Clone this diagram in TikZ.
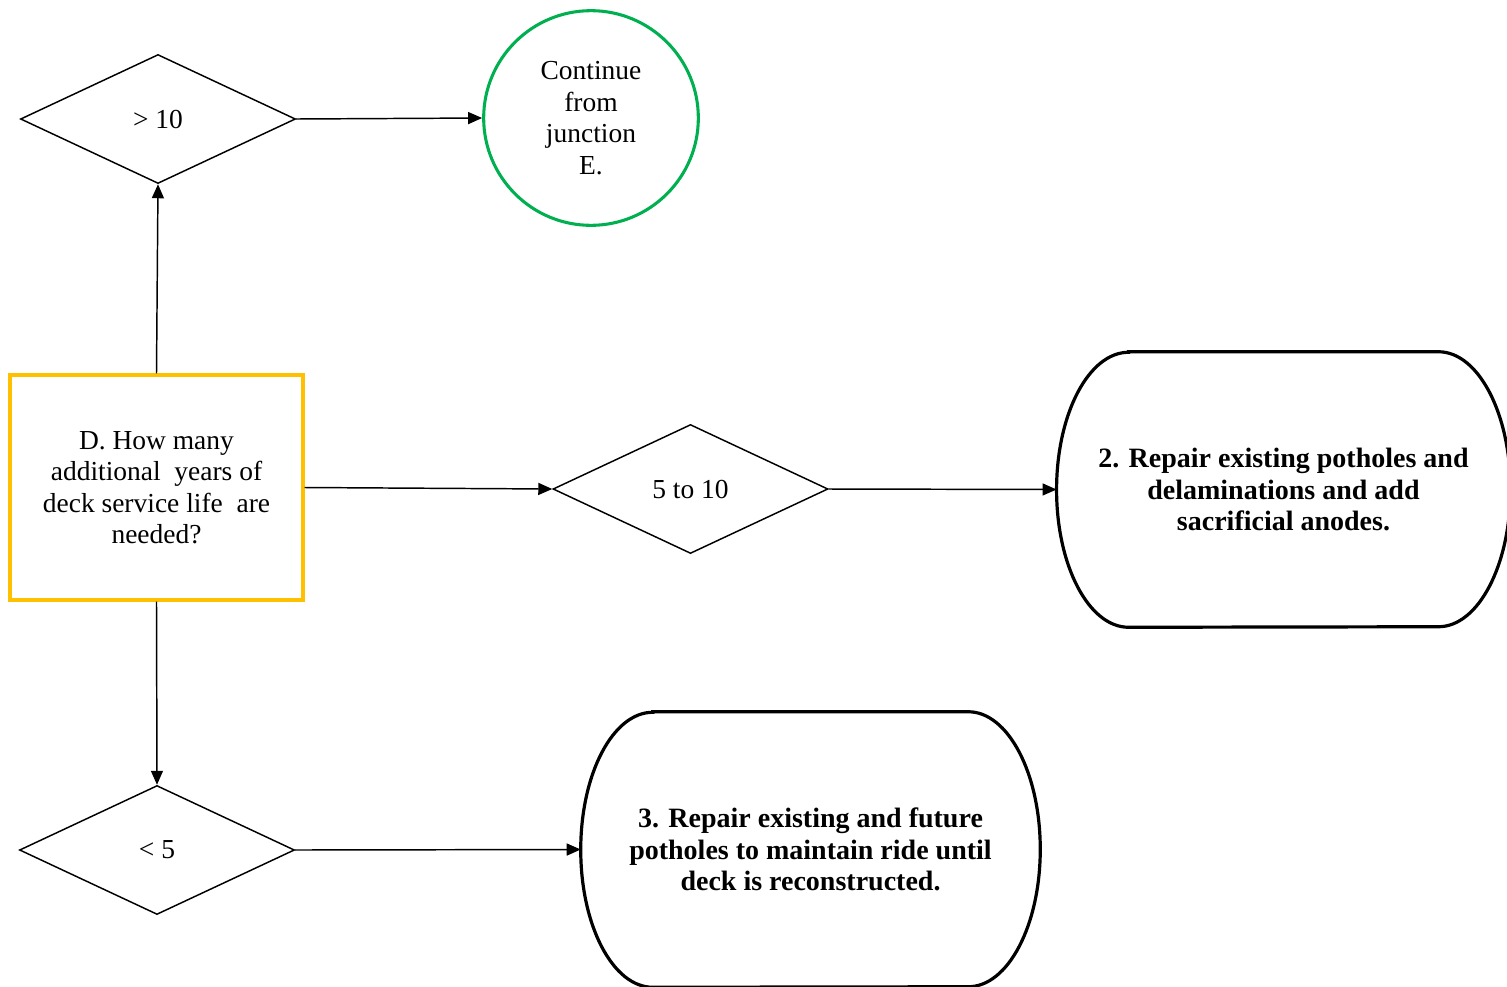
\documentclass[tikz,border=0pt]{standalone}
\usepackage{fontspec}
\setmainfont{Liberation Serif}
\usetikzlibrary{shapes.geometric,arrows.meta}
\definecolor{boxorange}{HTML}{FFC000}
\definecolor{circgreen}{HTML}{00B050}
\tikzset{
  txt/.style={font=\fontsize{20.6}{23.6}\selectfont, align=center},
  btxt/.style={font=\fontsize{21}{23.4}\selectfont\bfseries, align=center},
  dec/.style={diamond, draw=black, line width=1.1pt, inner sep=0pt, minimum width=206.25pt, minimum height=96.75pt, txt},
  qbox/.style={rectangle, draw=boxorange, line width=2.3pt, inner sep=0pt, minimum width=219.75pt, minimum height=168.75pt, txt},
  conn/.style={circle, draw=circgreen, line width=2.3pt, inner sep=0pt, minimum size=161pt, txt},
  termbox/.style={rectangle, draw=none, inner sep=0pt, minimum height=206.25pt, btxt},
  termline/.style={draw=black, line width=2.4pt},
  arr/.style={draw=black, line width=1.1pt, -{Triangle[length=10.5pt,width=9pt]}}
}
\begin{document}
\begin{tikzpicture}[x=0.75pt,y=-0.75pt]
\useasboundingbox (0,0) rectangle (1507,986);

\node[dec] (g10) at (158,119) {> 10};
\node[conn] (cont) at (591,118) {Continue\\from\\junction\\E.};
\node[qbox] (q) at (156.5,487.5) {D. How many\\additional \ years of\\deck service life \ are\\needed?};
\node[dec] (m510) at (690.5,489) {5 to 10};
\node[termbox, minimum width=340pt] (t2) at (1283.5,489.5) {2. Repair existing potholes and\\delaminations and add\\sacrificial anodes.};
\node[dec] (l5) at (157,850) {< 5};
\node[termbox, minimum width=344.25pt] (t3) at (810.5,849.5) {3. Repair existing and future\\potholes to maintain ride until\\deck is reconstructed.};

\foreach \t in {t2,t3}{
  \draw[termline] ([xshift=54pt]\t.north west) -- ([xshift=-54pt]\t.north east)
    arc[start angle=90, end angle=-90, x radius=54pt, y radius=103.125pt]
    -- ([xshift=54pt]\t.south west)
    arc[start angle=270, end angle=90, x radius=54pt, y radius=103.125pt] -- cycle;
}

\draw[arr] (q.north) -- (g10.south);
\draw[arr] (g10.east) -- (cont.west);
\draw[arr] (q.east) -- (m510.west);
\draw[arr] (m510.east) -- (t2.west);
\draw[arr] (q.south) -- (l5.north);
\draw[arr] (l5.east) -- (t3.west);
\end{tikzpicture}
\end{document}
